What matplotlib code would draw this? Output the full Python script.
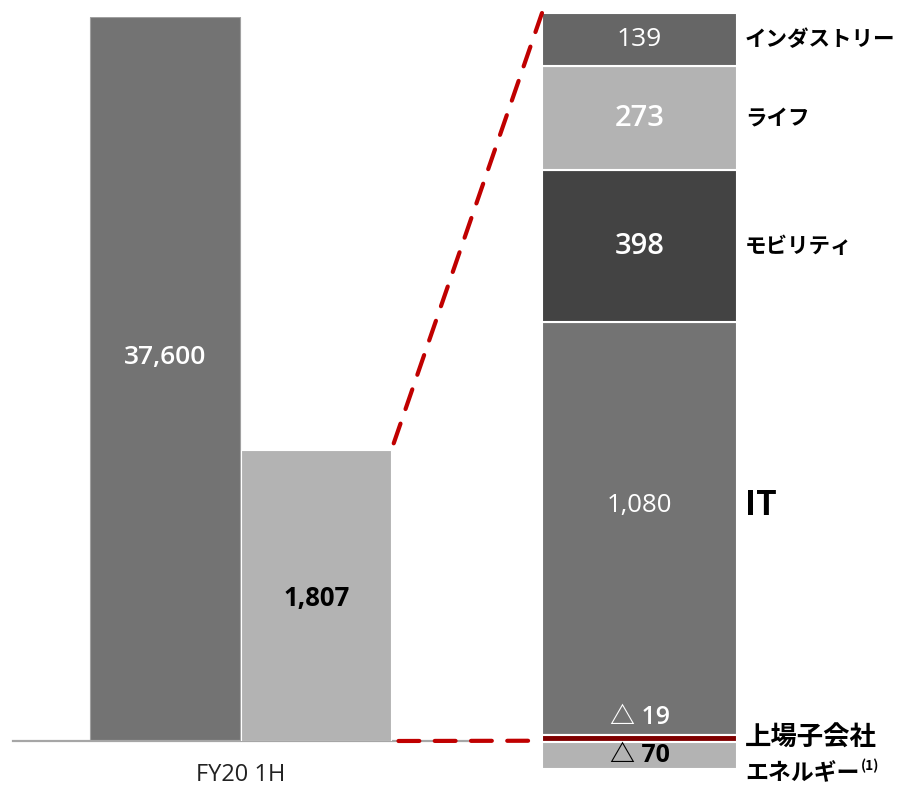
import matplotlib.pyplot as plt
from matplotlib.patches import ConnectionPatch

# Data
period = 'FY20 1H'
total_value = 37600
profit_value = 1807
seg_names = ['IT', 'モビリティ', 'ライフ', 'インダストリー']
seg_values = [1080, 398, 273, 139]
neg_names = ['上場子会社', 'エネルギー']
neg_values = [-19, -70]

# Styles
DPI = 100
W, H = 902, 786
GREY_MID = '#737373'
GREY_LIGHT = '#b3b3b3'
seg_colors = ['#737373', '#434343', '#b3b3b3', '#666666']
neg_colors = ['#7f0000', '#b3b3b3']
seg_font_sizes = [18.5, 21, 21, 19]
seg_weights = ['normal', 'semibold', 'semibold', 'normal']
DASH_RED = '#c00000'
NUM_FONT = ['Open Sans', 'Noto Sans CJK JP', 'DejaVu Sans']
JP_FONT = ['Noto Sans CJK JP', 'DejaVu Sans']

plt.rcParams['font.family'] = NUM_FONT

fig = plt.figure(figsize=(W / DPI, H / DPI), dpi=DPI)


def px_rect(x0, x1, y_top, y_bottom):
    # pixel box -> figure fraction rect
    return [x0 / W, (H - y_bottom) / H, (x1 - x0) / W, (y_bottom - y_top) / H]


# Left panel: big bar and the zoomed bar on its own scale
ax1 = fig.add_axes(px_rect(13, 468, 17, 741))
ax1b = ax1.twinx()
ax1.set_xlim(-0.75, 0.75)
ax1.set_ylim(0, total_value)
ax1b.set_ylim(0, 4496)

bar_w = 0.495
ax1.bar(-0.25, total_value, width=bar_w, color=GREY_MID, edgecolor='#a0a0a0', linewidth=0.8, zorder=2)
ax1b.bar(0.25, profit_value, width=bar_w, color=GREY_LIGHT, edgecolor='white', linewidth=0.8, zorder=2)

ax1.text(-0.25, total_value * 0.53, f'{total_value:,}', ha='center', va='center',
         color='white', fontsize=19, fontweight='semibold')
ax1b.text(0.25, profit_value * 0.49, f'{profit_value:,}', ha='center', va='center',
          color='black', fontsize=18.5, fontweight='bold')

for a in (ax1, ax1b):
    for s in ('top', 'right', 'left'):
        a.spines[s].set_visible(False)
    a.set_yticks([])
    a.patch.set_visible(False)
ax1b.spines['bottom'].set_visible(False)
ax1.spines['bottom'].set_color('#a6a6a6')
ax1.spines['bottom'].set_linewidth(1.6)
ax1.set_xticks([0], [period])
ax1.tick_params(axis='x', length=0, pad=16, labelsize=17, labelcolor='#222222')

# Right panel: stacked breakdown
ax2 = fig.add_axes(px_rect(542, 737, 9.2, 773.2))
ax2.set_xlim(-0.5, 0.5)
ax2.set_ylim(-100, 1900)
ax2.axis('off')

bottom = 0
seg_bottoms = []
for name, v, c in zip(seg_names, seg_values, seg_colors):
    ax2.bar(0, v, bottom=bottom, width=1.0, color=c, edgecolor='white', linewidth=1.5)
    seg_bottoms.append(bottom)
    bottom += v
stack_top = bottom

nbottom = 0
neg_bottoms = []
for name, v, c in zip(neg_names, neg_values, neg_colors):
    ax2.bar(0, v, bottom=nbottom, width=1.0, color=c, edgecolor='white', linewidth=1.5)
    neg_bottoms.append(nbottom)
    nbottom += v

# value labels in segments
for i, (name, v) in enumerate(zip(seg_names, seg_values)):
    y = seg_bottoms[i] + v / 2
    if name == 'IT':
        y = seg_bottoms[i] + v * 0.557
    ax2.text(0, y, f'{v:,}', ha='center', va='center', color='white',
             fontsize=seg_font_sizes[i], fontweight=seg_weights[i])

ax2.text(0, 45, f'△ {abs(neg_values[0])}', ha='center', va='center', color='white',
         fontsize=18, fontweight='semibold', family=NUM_FONT)
ax2.text(0, neg_bottoms[1] + neg_values[1] / 2, f'△ {abs(neg_values[1])}', ha='center', va='center',
         color='black', fontsize=18, fontweight='bold', family=NUM_FONT)

# category labels on the right
lab_x = 0.54
for i, (name, v) in enumerate(zip(seg_names, seg_values)):
    if name == 'IT':
        ax2.text(lab_x, seg_bottoms[i] + v * 0.557, name, ha='left', va='center', color='black',
                 fontsize=24, fontweight='bold', family=JP_FONT)
    else:
        ax2.text(lab_x, seg_bottoms[i] + v / 2, name, ha='left', va='center', color='black',
                 fontsize=15.5, fontweight='bold', family=JP_FONT)

ax2.text(lab_x, -8, neg_names[0], ha='left', va='center', color='black',
         fontsize=19, fontweight='bold', family=JP_FONT)
t_en = ax2.text(lab_x, -100, neg_names[1], ha='left', va='center', color='black',
                fontsize=16.5, fontweight='bold', family=JP_FONT)
ax2.annotate('(1)', xy=(1, 0.5), xycoords=t_en, xytext=(1, 0), textcoords='offset points',
             ha='left', va='bottom', fontsize=10, fontweight='bold', family=JP_FONT)

# dashed connector lines
for xyA, axA, xyB in [((0.25 + bar_w / 2, profit_value), ax1b, (-0.5, stack_top)),
                      ((0.25 + bar_w / 2, 0), ax1, (-0.5, -15))]:
    con = ConnectionPatch(xyA=xyA, coordsA=axA.transData, xyB=xyB, coordsB=ax2.transData,
                          color=DASH_RED, linewidth=3, linestyle=(7, (5, 3.7)))
    fig.add_artist(con)

fig.savefig('out.png', dpi=DPI)
